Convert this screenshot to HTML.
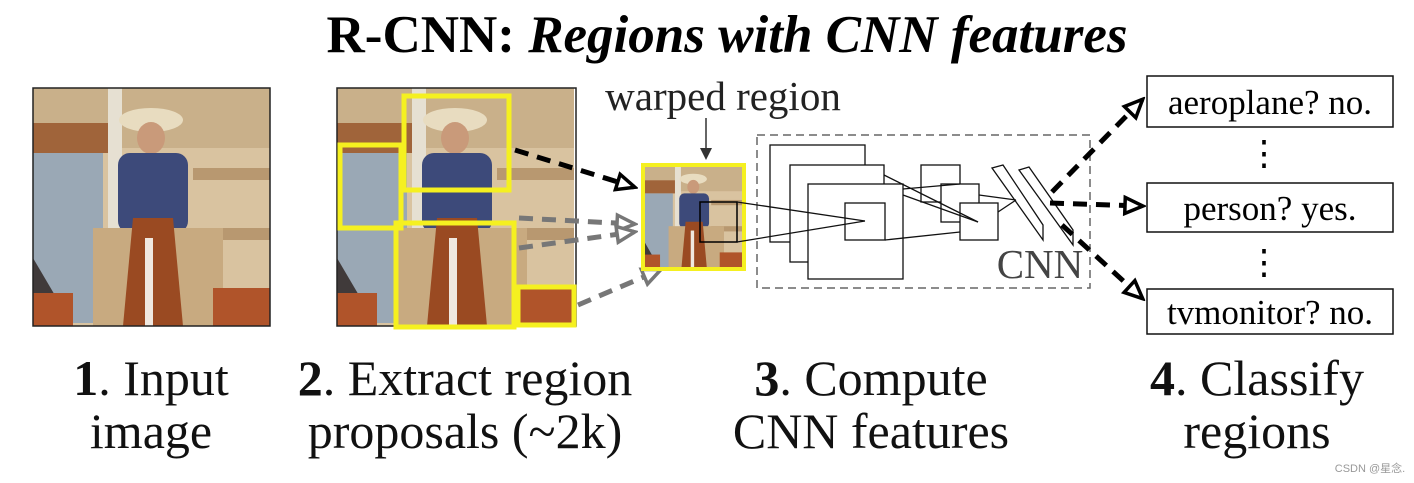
<!DOCTYPE html>
<html><head><style>
html,body{margin:0;padding:0;background:#fff;}
svg{display:block;font-family:"Liberation Serif",serif;}
</style></head><body>
<svg width="1414" height="483" viewBox="0 0 1414 483" xmlns="http://www.w3.org/2000/svg">
<defs>
<marker id="ab" markerWidth="24" markerHeight="22" refX="20" refY="11" orient="auto" markerUnits="userSpaceOnUse" viewBox="0 0 24 22"><path d="M3,3 L21,11 L3,19 Z" fill="#fff" stroke="#000" stroke-width="3.5"/></marker>
<marker id="ag" markerWidth="24" markerHeight="22" refX="20" refY="11" orient="auto" markerUnits="userSpaceOnUse" viewBox="0 0 24 22"><path d="M3,3 L21,11 L3,19 Z" fill="#fff" stroke="#777" stroke-width="3.5"/></marker>
<g id="photo">
<rect x="0" y="0" width="237" height="238" fill="#d9c3a0"/>
<rect x="0" y="0" width="237" height="60" fill="#c9b08a"/>
<rect x="0" y="35" width="80" height="30" fill="#a0643a"/>
<rect x="0" y="65" width="70" height="170" fill="#9aa8b5"/>
<rect x="75" y="0" width="14" height="160" fill="#e6e0d2"/>
<rect x="160" y="80" width="77" height="12" fill="#b89870"/>
<rect x="160" y="140" width="77" height="12" fill="#b89870"/>
<ellipse cx="118" cy="32" rx="32" ry="12" fill="#e8dcc0"/>
<ellipse cx="118" cy="50" rx="14" ry="16" fill="#c99a7a"/>
<rect x="85" y="65" width="70" height="80" rx="12" fill="#3d4a7a"/>
<rect x="60" y="140" width="130" height="98" fill="#c8aa80"/>
<path d="M100,130 L140,130 L150,238 L90,238 Z" fill="#9a4a22"/>
<rect x="112" y="150" width="8" height="88" fill="#f0e8e0"/>
<path d="M0,170 L40,238 L0,238Z" fill="#403a3a"/>
<rect x="180" y="200" width="57" height="38" fill="#b0542a"/>
<rect x="0" y="205" width="40" height="33" fill="#b0542a"/>
</g>
</defs>
<text x="727" y="52" text-anchor="middle" font-size="53" font-weight="bold">R-CNN: <tspan font-style="italic">Regions with CNN features</tspan></text>

<use href="#photo" x="33" y="88"/>
<rect x="33" y="88" width="237" height="238" fill="none" stroke="#222" stroke-width="1.5"/>
<use href="#photo" x="337" y="88"/>
<rect x="337" y="88" width="239" height="238" fill="none" stroke="#222" stroke-width="1.5"/>
<g fill="none" stroke="#f5f020" stroke-width="5">
<rect x="404" y="96" width="105" height="94"/>
<rect x="340" y="145" width="61" height="83"/>
<rect x="396" y="223" width="118" height="104"/>
<rect x="518" y="287" width="56" height="38"/>
</g>

<g stroke-dasharray="14,9" stroke-width="5" fill="none">
<line x1="515" y1="150" x2="634" y2="187" stroke="#000" marker-end="url(#ab)"/>
<line x1="519" y1="218" x2="634" y2="224" stroke="#777" marker-end="url(#ag)"/>
<line x1="519" y1="248" x2="634" y2="232" stroke="#777" marker-end="url(#ag)"/>
<line x1="578" y1="305" x2="660" y2="270" stroke="#777" marker-end="url(#ag)"/>
</g>

<text x="723" y="110" text-anchor="middle" font-size="41" fill="#222">warped region</text>
<line x1="706" y1="118" x2="706" y2="150" stroke="#333" stroke-width="1.5"/>
<path d="M700,148 L712,148 L706,160 Z" fill="#333"/>
<svg x="643" y="165" width="101" height="104" viewBox="0 0 237 238" preserveAspectRatio="none"><use href="#photo"/></svg>
<rect x="643" y="165" width="101" height="104" fill="none" stroke="#f5f020" stroke-width="4"/>
<rect x="700" y="202" width="37" height="40" fill="none" stroke="#000" stroke-width="1.5"/>

<rect x="757" y="135" width="333" height="153" fill="none" stroke="#666" stroke-width="1.5" stroke-dasharray="8,5"/>
<g fill="#fff" stroke="#111" stroke-width="1.3">
<rect x="770" y="145" width="95" height="97"/>
<rect x="790" y="165" width="94" height="97"/>
<rect x="808" y="184" width="95" height="95"/>
<rect x="845" y="203" width="40" height="37"/>
<rect x="921" y="165" width="39" height="37"/>
<rect x="941" y="184" width="38" height="38"/>
<rect x="960" y="203" width="38" height="37"/>
<path d="M992,168 L1003,165 L1043,225 L1043,240 Z"/>
<path d="M1019,170 L1029,167 L1073,230 L1073,245 Z"/>
</g>
<g fill="none" stroke="#111" stroke-width="1.3">
<line x1="737" y1="202" x2="865" y2="221"/>
<line x1="737" y1="242" x2="865" y2="221"/>
<line x1="884" y1="175" x2="978" y2="222"/>
<line x1="903" y1="195" x2="978" y2="222"/>
<line x1="903" y1="189" x2="960" y2="184"/>
<line x1="885" y1="240" x2="960" y2="232"/>
<line x1="998" y1="212" x2="1016" y2="200"/>
<line x1="979" y1="195" x2="1016" y2="200"/>
</g>
<text x="1040" y="278" text-anchor="middle" font-size="41" fill="#444">CNN</text>

<g stroke="#000" stroke-width="5" fill="none" stroke-dasharray="14,9">
<line x1="1052" y1="192" x2="1142" y2="100" marker-end="url(#ab)"/>
<line x1="1050" y1="203" x2="1142" y2="206" marker-end="url(#ab)"/>
<line x1="1062" y1="225" x2="1142" y2="298" marker-end="url(#ab)"/>
</g>
<g fill="#fff" stroke="#111" stroke-width="1.5">
<rect x="1147" y="76" width="246" height="51"/>
<rect x="1147" y="183" width="246" height="49"/>
<rect x="1147" y="289" width="246" height="45"/>
</g>
<g font-size="35" text-anchor="middle">
<text x="1270" y="114">aeroplane? no.</text>
<text x="1270" y="220">person? yes.</text>
<text x="1270" y="324">tvmonitor? no.</text>
<text x="1264" y="165">⋮</text>
<text x="1264" y="274">⋮</text>
</g>

<g font-size="50" text-anchor="middle" fill="#111">
<text x="151" y="395"><tspan font-weight="bold">1</tspan>. Input</text>
<text x="151" y="448">image</text>
<text x="465" y="395"><tspan font-weight="bold">2</tspan>. Extract region</text>
<text x="465" y="448">proposals (~2k)</text>
<text x="871" y="395"><tspan font-weight="bold">3</tspan>. Compute</text>
<text x="871" y="448">CNN features</text>
<text x="1257" y="395"><tspan font-weight="bold">4</tspan>. Classify</text>
<text x="1257" y="448">regions</text>
</g>
<text x="1370" y="472" font-size="11" fill="#999" text-anchor="middle" font-family="Liberation Sans, Noto Sans CJK SC, sans-serif">CSDN @星念.</text>
</svg>
</body></html>
